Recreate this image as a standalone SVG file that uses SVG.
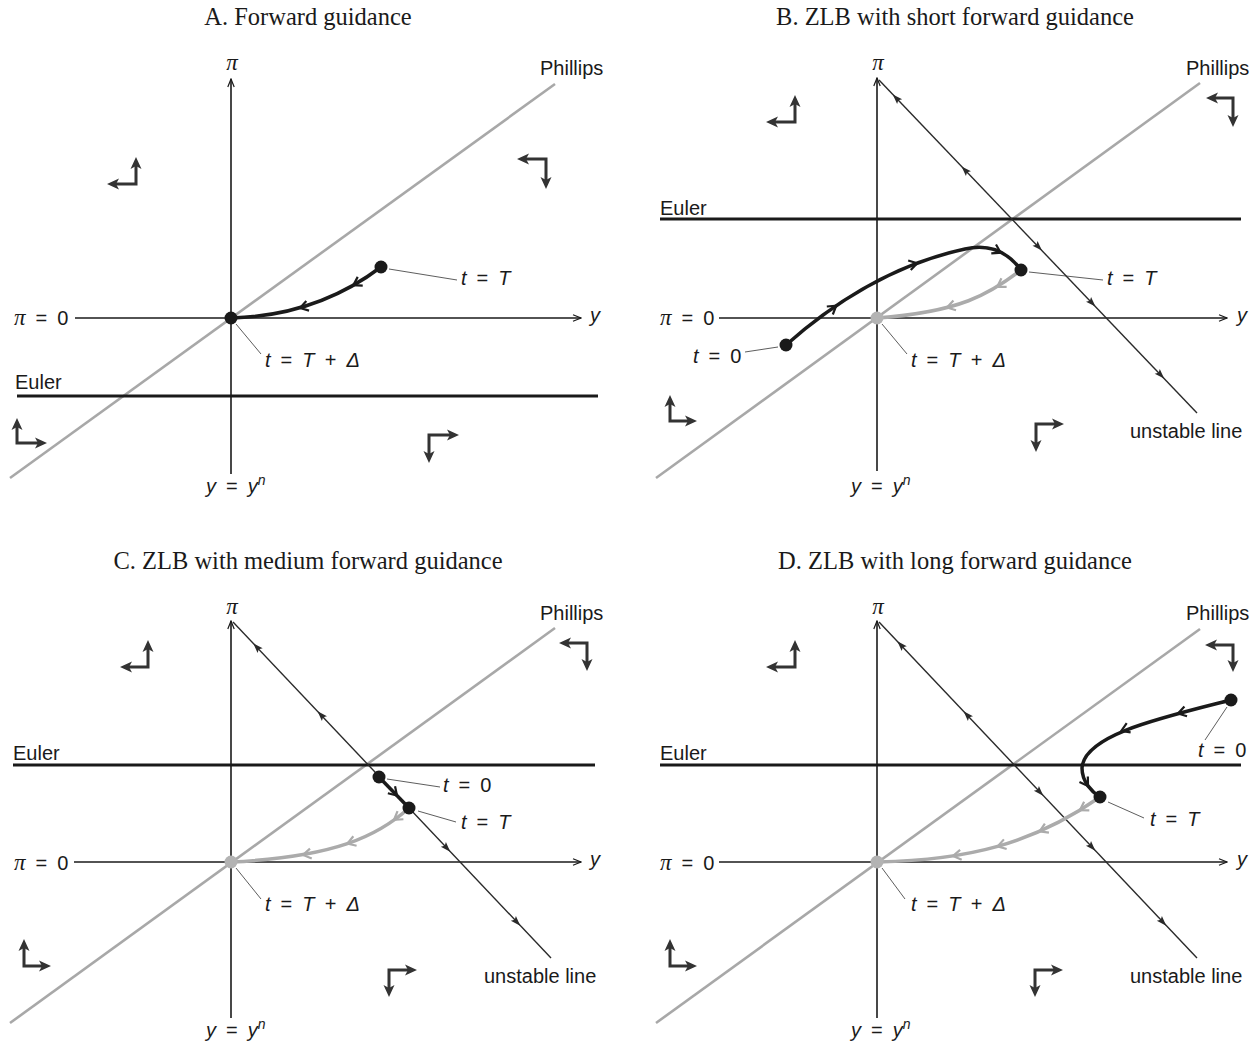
<svg xmlns="http://www.w3.org/2000/svg" xmlns:xlink="http://www.w3.org/1999/xlink" width="1260" height="1044" viewBox="0 0 1260 1044">
<style>
.t{font-family:"Liberation Serif","Times New Roman",serif;font-size:24.5px;fill:#1a1a1a;text-anchor:middle}
.l{font-family:"Liberation Sans",Arial,sans-serif;font-size:20px;fill:#1a1a1a}
.m{word-spacing:4.5px}
.i{font-style:italic}
.pi{font-family:"Liberation Serif","Times New Roman",serif;font-style:italic;font-size:23px}
.ax{stroke:#1a1a1a;stroke-width:1.6;fill:none;marker-end:url(#ah)}
.eu{stroke:#1a1a1a;stroke-width:3}
.ph{stroke:#a8a8a8;stroke-width:2.6}
.ul{stroke:#2a2a2a;stroke-width:1.4}
.ld{stroke:#333;stroke-width:0.8}
.qa{stroke:#333;stroke-width:3;fill:none;marker-start:url(#qh);marker-end:url(#qh)}
.tb{stroke:#1a1a1a;stroke-width:3.5;fill:none}
.tg{stroke:#ababab;stroke-width:3.5;fill:none}
.cb{stroke:#1a1a1a;stroke-width:2.2;fill:none}
.cg{stroke:#ababab;stroke-width:2.2;fill:none}
.db{fill:#1a1a1a}
.dg{fill:#b3b3b3}
</style>
<defs>
<marker id="qh" markerUnits="userSpaceOnUse" markerWidth="12" markerHeight="12" viewBox="0 0 12 12" refX="3" refY="6" orient="auto-start-reverse"><path d="M0,0.5 L12,6 L0,11.5 L3,6 z" fill="#333"/></marker>
<marker id="ah" markerUnits="userSpaceOnUse" markerWidth="10" markerHeight="8" viewBox="0 0 10 8" refX="9" refY="4" orient="auto"><path d="M1,0.8 L9,4 L1,7.2" fill="none" stroke="#1a1a1a" stroke-width="1.2"/></marker>
<path id="ua" d="M5,0 L-5,-3.5 L-3,0 L-5,3.5 z" fill="#2a2a2a"/>
<path id="chv" d="M-8,-5 L0,0 L-8,5"/>
</defs>

<g id="titles">
<text class="t" x="308" y="25">A. Forward guidance</text>
<text class="t" x="955" y="25">B. ZLB with short forward guidance</text>
<text class="t" x="308" y="569">C. ZLB with medium forward guidance</text>
<text class="t" x="955" y="569">D. ZLB with long forward guidance</text>
</g>

<!-- Panel A -->
<g id="panelA">
<g id="connectorsA">
<line class="ph" x1="10" y1="478" x2="555" y2="84"/>
<line class="ax" x1="231" y1="474" x2="231" y2="79"/>
<line class="ax" x1="75" y1="318" x2="581" y2="318"/>
<line class="eu" x1="17" y1="396" x2="598" y2="396"/>
<path class="qa" d="M116,184 H136 V166"/>
<path class="qa" d="M526,159 H546 V180"/>
<path class="qa" d="M17,427 V443 H38"/>
<path class="qa" d="M450,435 H429 V454"/>
<path class="tb" d="M381,267 C348,292 300,316 232,318"/>
<use href="#chv" class="cb" transform="translate(353.3,285.2) rotate(150)"/>
<use href="#chv" class="cb" transform="translate(300,308) rotate(164)"/>
<line class="ld" x1="389" y1="269" x2="457" y2="280"/>
<line class="ld" x1="236" y1="324" x2="261" y2="354"/>
</g>
<g id="nodeA_T"><circle class="db" cx="381" cy="267" r="6.5"/></g>
<g id="nodeA_TD"><circle class="db" cx="231" cy="318" r="6.5"/></g>
<g id="labelsA">
<text class="l" x="540" y="75">Phillips</text>
<text class="l" x="15" y="389">Euler</text>
<text class="l" x="232" y="70" text-anchor="middle"><tspan class="pi">π</tspan></text>
<text class="l m" x="14" y="325"><tspan class="pi">π</tspan> = 0</text>
<text class="l i" x="590" y="322">y</text>
<text class="l m" x="206" y="493"><tspan class="i">y</tspan> = <tspan class="i">y</tspan><tspan class="i" font-size="14" dy="-8">n</tspan></text>
<text class="l m" x="461" y="285"><tspan class="i">t</tspan> = <tspan class="i">T</tspan></text>
<text class="l m" x="265" y="367"><tspan class="i">t</tspan> = <tspan class="i">T</tspan> + <tspan class="i">Δ</tspan></text>
</g>
</g>

<!-- Panel B -->
<g id="panelB">
<g id="connectorsB">
<line class="ph" x1="656" y1="478" x2="1200" y2="83"/>
<line class="ax" x1="877" y1="471" x2="877" y2="78"/>
<line class="ax" x1="719" y1="318" x2="1227" y2="318"/>
<line class="eu" x1="660" y1="219" x2="1241" y2="219"/>
<line class="ul" x1="879" y1="80" x2="1197" y2="413"/>
<use href="#ua" transform="translate(896.2,98) rotate(226.3)"/>
<use href="#ua" transform="translate(965,170) rotate(226.3)"/>
<use href="#ua" transform="translate(1038.5,247) rotate(46.3)"/>
<use href="#ua" transform="translate(1092,303) rotate(46.3)"/>
<use href="#ua" transform="translate(1160.7,375) rotate(46.3)"/>
<path class="qa" d="M775,122 H795 V104"/>
<path class="qa" d="M1215,98 H1233 V118"/>
<path class="qa" d="M670,404 V421 H688"/>
<path class="qa" d="M1055,424 H1036 V443"/>
<path class="tg" d="M1021,270 C990,294 960,312 877,318"/>
<use href="#chv" class="cg" transform="translate(997.2,286.8) rotate(148.6)"/>
<use href="#chv" class="cg" transform="translate(947,307.5) rotate(165)"/>
<path class="tb" d="M786,345 C840,297 900,263 965,249 C992,243 1010,255 1021,270"/>
<use href="#chv" class="cb" transform="translate(836.2,305.7) rotate(-37)"/>
<use href="#chv" class="cb" transform="translate(917.2,263.2) rotate(-15)"/>
<use href="#chv" class="cb" transform="translate(1000.7,252.7) rotate(28)"/>
<line class="ld" x1="778" y1="347" x2="745" y2="352"/>
<line class="ld" x1="1029" y1="272" x2="1103" y2="280"/>
<line class="ld" x1="882" y1="324" x2="907" y2="354"/>
</g>
<g id="nodeB_0"><circle class="db" cx="786" cy="345" r="6.5"/></g>
<g id="nodeB_T"><circle class="db" cx="1021" cy="270" r="6.5"/></g>
<g id="nodeB_TD"><circle class="dg" cx="877" cy="318" r="6.5"/></g>
<g id="labelsB">
<text class="l" x="1186" y="75">Phillips</text>
<text class="l" x="660" y="215">Euler</text>
<text class="l" x="1130" y="438">unstable line</text>
<text class="l" x="878" y="70" text-anchor="middle"><tspan class="pi">π</tspan></text>
<text class="l m" x="660" y="325"><tspan class="pi">π</tspan> = 0</text>
<text class="l i" x="1237" y="322">y</text>
<text class="l m" x="851" y="493"><tspan class="i">y</tspan> = <tspan class="i">y</tspan><tspan class="i" font-size="14" dy="-8">n</tspan></text>
<text class="l m" x="693" y="363"><tspan class="i">t</tspan> = 0</text>
<text class="l m" x="1107" y="285"><tspan class="i">t</tspan> = <tspan class="i">T</tspan></text>
<text class="l m" x="911" y="367"><tspan class="i">t</tspan> = <tspan class="i">T</tspan> + <tspan class="i">Δ</tspan></text>
</g>
</g>

<!-- Panel C -->
<g id="panelC">
<g id="connectorsC">
<line class="ph" x1="10" y1="1023" x2="555" y2="628"/>
<line class="ax" x1="231" y1="1018" x2="231" y2="621"/>
<line class="ax" x1="74" y1="862" x2="581" y2="862"/>
<line class="eu" x1="13" y1="765" x2="595" y2="765"/>
<line class="ul" x1="233" y1="622" x2="551" y2="958"/>
<use href="#ua" transform="translate(256.7,647) rotate(226.6)"/>
<use href="#ua" transform="translate(321,715) rotate(226.6)"/>
<use href="#ua" transform="translate(446.8,848) rotate(46.6)"/>
<use href="#ua" transform="translate(516.8,922) rotate(46.6)"/>
<path class="qa" d="M129,667 H148 V649"/>
<path class="qa" d="M568,643 H587 V662"/>
<path class="qa" d="M24,948 V966 H42"/>
<path class="qa" d="M408,970 H389 V988"/>
<path class="tg" d="M409,808 C378,836 335,857 231,862"/>
<use href="#chv" class="cg" transform="translate(394,819.9) rotate(144)"/>
<use href="#chv" class="cg" transform="translate(347.4,843.6) rotate(161)"/>
<use href="#chv" class="cg" transform="translate(303,855) rotate(170)"/>
<line class="tb" x1="379" y1="777" x2="409" y2="808"/>
<use href="#chv" class="cb" transform="translate(397,795.5) rotate(46)"/>
<line class="ld" x1="387" y1="779" x2="440" y2="787"/>
<line class="ld" x1="418" y1="811" x2="456" y2="822"/>
<line class="ld" x1="236" y1="868" x2="261" y2="899"/>
</g>
<g id="nodeC_0"><circle class="db" cx="379" cy="777" r="6.5"/></g>
<g id="nodeC_T"><circle class="db" cx="409" cy="808" r="6.5"/></g>
<g id="nodeC_TD"><circle class="dg" cx="231" cy="862" r="6.5"/></g>
<g id="labelsC">
<text class="l" x="540" y="620">Phillips</text>
<text class="l" x="13" y="760">Euler</text>
<text class="l" x="484" y="983">unstable line</text>
<text class="l" x="232" y="614" text-anchor="middle"><tspan class="pi">π</tspan></text>
<text class="l m" x="14" y="870"><tspan class="pi">π</tspan> = 0</text>
<text class="l i" x="590" y="866">y</text>
<text class="l m" x="206" y="1037"><tspan class="i">y</tspan> = <tspan class="i">y</tspan><tspan class="i" font-size="14" dy="-8">n</tspan></text>
<text class="l m" x="443" y="792"><tspan class="i">t</tspan> = 0</text>
<text class="l m" x="461" y="829"><tspan class="i">t</tspan> = <tspan class="i">T</tspan></text>
<text class="l m" x="265" y="911"><tspan class="i">t</tspan> = <tspan class="i">T</tspan> + <tspan class="i">Δ</tspan></text>
</g>
</g>

<!-- Panel D -->
<g id="panelD">
<g id="connectorsD">
<line class="ph" x1="656" y1="1023" x2="1200" y2="629"/>
<line class="ax" x1="877" y1="1018" x2="877" y2="621"/>
<line class="ax" x1="719" y1="862" x2="1227" y2="862"/>
<line class="eu" x1="660" y1="765" x2="1241" y2="765"/>
<line class="ul" x1="879" y1="622" x2="1197" y2="958"/>
<use href="#ua" transform="translate(900.8,645) rotate(226.6)"/>
<use href="#ua" transform="translate(967,715) rotate(226.6)"/>
<use href="#ua" transform="translate(1039.8,792) rotate(46.6)"/>
<use href="#ua" transform="translate(1091.9,847) rotate(46.6)"/>
<use href="#ua" transform="translate(1162.8,922) rotate(46.6)"/>
<path class="qa" d="M775,667 H795 V649"/>
<path class="qa" d="M1214,645 H1233 V663"/>
<path class="qa" d="M670,948 V966 H688"/>
<path class="qa" d="M1054,970 H1035 V988"/>
<path class="tg" d="M1100,797 C1033,844 968,860 878,862"/>
<use href="#chv" class="cg" transform="translate(1079.9,810.2) rotate(148.5)"/>
<use href="#chv" class="cg" transform="translate(1039.6,831.4) rotate(156)"/>
<use href="#chv" class="cg" transform="translate(997.6,846.4) rotate(164)"/>
<use href="#chv" class="cg" transform="translate(953,856) rotate(171)"/>
<path class="tb" d="M1231,700 C1160,718 1084,735 1082,768 C1082,782 1092,792 1100,797"/>
<use href="#chv" class="cb" transform="translate(1178,713.5) rotate(165)"/>
<use href="#chv" class="cb" transform="translate(1121.3,730.9) rotate(157)"/>
<use href="#chv" class="cb" transform="translate(1088,785.9) rotate(57)"/>
<line class="ld" x1="1227" y1="707" x2="1205" y2="740"/>
<line class="ld" x1="1108" y1="802" x2="1144" y2="818"/>
<line class="ld" x1="882" y1="868" x2="905" y2="899"/>
</g>
<g id="nodeD_0"><circle class="db" cx="1231" cy="700" r="6.5"/></g>
<g id="nodeD_T"><circle class="db" cx="1100" cy="797" r="6.5"/></g>
<g id="nodeD_TD"><circle class="dg" cx="877" cy="862" r="6.5"/></g>
<g id="labelsD">
<text class="l" x="1186" y="620">Phillips</text>
<text class="l" x="660" y="760">Euler</text>
<text class="l" x="1130" y="983">unstable line</text>
<text class="l" x="878" y="614" text-anchor="middle"><tspan class="pi">π</tspan></text>
<text class="l m" x="660" y="870"><tspan class="pi">π</tspan> = 0</text>
<text class="l i" x="1237" y="866">y</text>
<text class="l m" x="851" y="1037"><tspan class="i">y</tspan> = <tspan class="i">y</tspan><tspan class="i" font-size="14" dy="-8">n</tspan></text>
<text class="l m" x="1198" y="757"><tspan class="i">t</tspan> = 0</text>
<text class="l m" x="1150" y="826"><tspan class="i">t</tspan> = <tspan class="i">T</tspan></text>
<text class="l m" x="911" y="911"><tspan class="i">t</tspan> = <tspan class="i">T</tspan> + <tspan class="i">Δ</tspan></text>
</g>
</g>
</svg>
